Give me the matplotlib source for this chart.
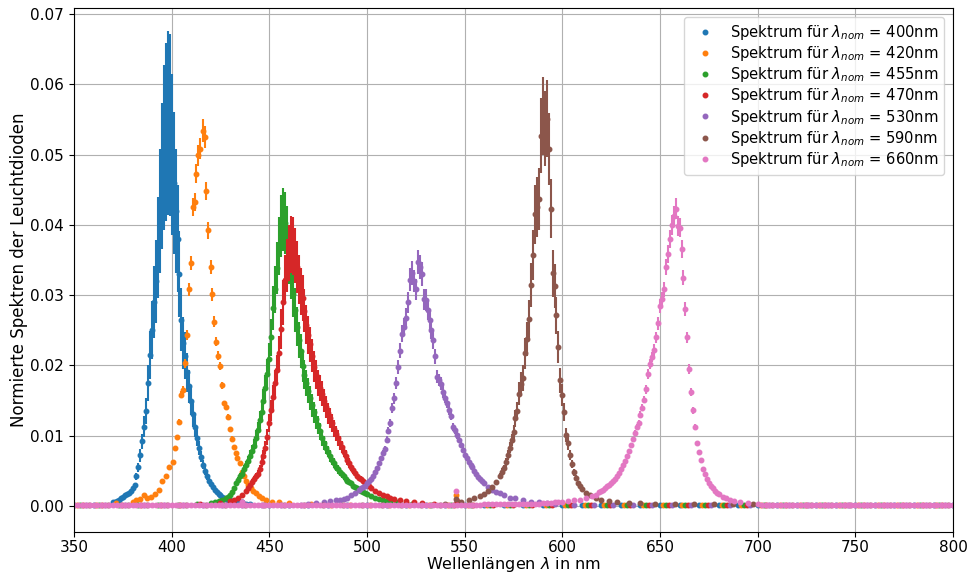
import numpy as np
import matplotlib
matplotlib.use("Agg")
import matplotlib.pyplot as plt

# ---------------- data ----------------
labels = ["400", "420", "455", "470", "530", "590", "660"]
colors = ["#1f77b4", "#ff7f0e", "#2ca02c", "#d62728", "#9467bd", "#8c564b", "#e377c2"]

# LED 400 nm
x400 = [370, 371, 372, 373, 374, 375, 376, 377, 378, 379, 380, 381, 382, 383, 384, 385, 386, 387, 388, 389,
        390, 391, 392, 393, 394, 395, 396, 397, 398, 399, 400, 401, 402, 403, 404, 405, 406, 407, 408, 409,
        410, 411, 412, 413, 414, 415, 416, 417, 418, 419, 420, 421, 422, 423, 424, 425, 426, 427, 428, 429,
        430, 432, 434, 436, 438, 440]
y400 = [.0005, .0006, .0007, .0009, .0011, .0013, .0015, .0017, .0019, .0022, .0026, .0030, .0042, .0055, .0072, .0092, .0113, .0135, .0175, .0215,
        .0250, .0290, .0320, .0368, .0420, .0470, .0510, .0532, .0545, .0542, .0500, .0460, .0420, .0380, .0330, .0265, .0232, .0214, .0190, .0170,
        .0150, .0131, .0113, .0097, .0083, .0070, .0059, .0050, .0042, .0036, .0031, .0027, .0023, .0020, .0017, .0015, .0013, .0011, .0010, .0009,
        .0008, .0006, .0005, .0006, .0003, .0003]
e400 = [.0001, .0001, .0001, .0001, .0001, .0001, .0002, .0002, .0002, .0002, .0003, .0003, .0005, .0006, .0009, .0011, .0015, .0018, .0025, .0034,
        .0041, .0051, .0059, .0072, .0088, .0104, .0118, .0127, .0131, .0130, .0115, .0101, .0088, .0076, .0061, .0045, .0037, .0033, .0028, .0024,
        .0021, .0018, .0015, .0012, .0010, .0008, .0007, .0006, .0005, .0004, .0003, .0003, .0002, .0002, .0002, .0002, .0001, .0001, .0001, .0001,
        .0001, .0001, .0001, .0001, .0001, .0001]
bx400 = [350, 360, 450, 460, 470, 480, 490, 500, 510, 520, 530, 540, 546, 550, 560, 570, 580, 590, 600, 610,
         620, 630, 640, 650, 660, 670, 680, 690, 700, 710, 720, 730, 740, 750, 760, 770, 780, 790, 800]
by400 = [1, 2, 2, 2, 1, 1, 1, 1, 1, 1, 1, 1, 5, 1, 1, 1, 1, 1, 1, 1,
         1, 1, 1, 1, 1, 1, 1, 1, 1, 1, 1, 1, 1, 1, 1, 1, 1, 1, 1]

# LED 420 nm
x420 = [380, 382, 384, 385.9, 387.5, 389.5, 391.5, 393.5, 395.3, 397.0, 398.7, 400.7, 401.8, 402.6, 403.8, 404.8, 405.9, 406.9,
        407.9, 408.8, 409.8, 411.0, 411.8, 412.7, 413.7, 414.6, 415.8, 417.0, 417.8, 418.8, 419.9, 420.9, 421.8, 422.6, 423.8, 424.8,
        426.0, 426.9, 427.9, 428.9, 430.0, 430.8, 431.9, 432.9, 433.7, 434.9, 436.0, 437.0, 438.0, 439.3, 440.6, 441.8, 443.1, 444.7,
        446.5, 448.5, 451.6, 455.0, 460.0]
y420 = [.0006, .0008, .0010, .0015, .0011, .0013, .0017, .0023, .0035, .0042, .0056, .0063, .0082, .0098, .0120, .0158, .0165, .0203,
        .0243, .0308, .0346, .0425, .0432, .0473, .0499, .0508, .0534, .0525, .0448, .0392, .0340, .0301, .0262, .0234, .0214, .0199,
        .0172, .0146, .0141, .0127, .0110, .0096, .0084, .0075, .0068, .0061, .0049, .0042, .0035, .0030, .0025, .0021, .0018, .0014,
        .0011, .0009, .0006, .0005, .0004]
e420 = [.0001, .0001, .0001, .0001, .0001, .0001, .0001, .0001, .0001, .0001, .0002, .0002, .0002, .0003, .0004, .0005, .0005, .0006,
        .0007, .0009, .0010, .0013, .0013, .0014, .0015, .0015, .0016, .0016, .0013, .0012, .0010, .0009, .0008, .0007, .0006, .0006,
        .0005, .0004, .0004, .0004, .0003, .0003, .0003, .0002, .0002, .0002, .0001, .0001, .0001, .0001, .0001, .0001, .0001, .0001,
        .0001, .0001, .0001, .0001, .0001]
bx420 = [351.5, 361.5, 371.5, 471.5, 481.5, 491.5, 501.5, 511.5, 521.5, 531.5, 541.5, 545.5, 551.5, 561.5, 571.5, 581.5, 591.5,
         601.5, 611.5, 621.5, 631.5, 641.5, 651.5, 661.5, 671.5, 681.5, 691.5, 701.5, 711.5, 721.5, 731.5, 741.5, 751.5, 761.5,
         771.5, 781.5, 791.5]
by420 = [1, 2, 4, 3, 2, 2, 2, 2, 1, 1, 1, 15, 1, 1, 1, 1, 1,
         1, 1, 1, 1, 1, 1, 1, 1, 1, 1, 1, 1, 1, 1, 1, 1, 1,
         1, 1, 1]

# LED 455 nm
x455 = [420, 422, 424, 426, 428, 429, 430, 431, 432, 433, 434, 435, 436, 437, 438, 439, 440, 441, 442, 443,
        444, 445, 446, 447, 448, 449, 450, 451, 452, 453, 454, 455, 456, 457, 458, 459, 460, 461, 462, 463,
        464, 465, 466, 467, 468, 469, 470, 471, 472, 473, 474, 475, 476, 477, 478, 479, 480, 481, 482, 483,
        484, 485, 486, 487, 488, 489, 490, 491, 492, 493, 494, 495, 496, 497, 498, 499, 500, 502, 504, 506,
        508, 510, 512, 515, 520]
y455 = [.0004, .0005, .0007, .0009, .0011, .0013, .0016, .0020, .0026, .0032, .0037, .0042, .0046, .0052, .0058, .0064, .0071, .0078, .0086, .0097,
        .0108, .0122, .0134, .0150, .0168, .0188, .0209, .0240, .0282, .0308, .0338, .0370, .0398, .0408, .0402, .0385, .0355, .0330, .0302, .0279,
        .0255, .0236, .0220, .0199, .0187, .0175, .0164, .0153, .0143, .0133, .0124, .0115, .0106, .0097, .0090, .0083, .0077, .0071, .0066, .0061,
        .0056, .0052, .0048, .0045, .0042, .0039, .0036, .0034, .0032, .0029, .0027, .0025, .0023, .0021, .0020, .0018, .0017, .0014, .0012, .0010,
        .0008, .0007, .0006, .0005, .0004]
e455 = [.0001, .0001, .0001, .0001, .0001, .0001, .0002, .0002, .0003, .0004, .0004, .0005, .0005, .0006, .0006, .0007, .0008, .0009, .0009, .0011,
        .0012, .0013, .0015, .0017, .0018, .0021, .0023, .0026, .0031, .0034, .0037, .0041, .0044, .0045, .0044, .0042, .0039, .0036, .0033, .0031,
        .0028, .0026, .0024, .0022, .0021, .0019, .0018, .0017, .0016, .0015, .0014, .0013, .0012, .0011, .0010, .0009, .0008, .0008, .0007, .0007,
        .0006, .0006, .0005, .0005, .0005, .0004, .0004, .0004, .0004, .0003, .0003, .0003, .0003, .0002, .0002, .0002, .0002, .0002, .0001, .0001,
        .0001, .0001, .0001, .0001, .0001]
bx455 = [353, 363, 373, 383, 393, 403, 413, 523, 533, 543, 546, 553, 563, 573, 583, 593, 603, 613, 623, 633,
         643, 653, 663, 673, 683, 693, 703, 713, 723, 733, 743, 753, 763, 773, 783, 793]
by455 = [1, 1, 1, 1, 2, 2, 3, 3, 2, 2, 6, 2, 1, 1, 1, 1, 1, 1, 1, 1,
         1, 1, 1, 1, 1, 1, 1, 1, 1, 1, 1, 1, 1, 1, 1, 1]

# LED 470 nm
x470 = [430, 432, 434, 436, 438, 439, 440, 441, 442, 443, 444, 445, 446, 447, 448, 449, 450, 451, 452, 453,
        454, 455, 456, 457, 458, 459, 460, 461, 462, 463, 464, 465, 466, 467, 468, 469, 470, 471, 472, 473,
        474, 475, 476, 477, 478, 479, 480, 481, 482, 483, 484, 485, 486, 487, 488, 489, 490, 491, 492, 493,
        494, 495, 496, 497, 498, 499, 500, 501, 502, 504, 506, 508, 510, 512, 514, 517, 520, 524, 528]
y470 = [.0007, .0009, .0012, .0016, .0022, .0026, .0030, .0034, .0038, .0042, .0046, .0053, .0062, .0071, .0083, .0098, .0118, .0136, .0155, .0175,
        .0194, .0218, .0252, .0290, .0322, .0342, .0360, .0372, .0370, .0356, .0340, .0322, .0305, .0296, .0278, .0258, .0243, .0230, .0214, .0198,
        .0187, .0175, .0168, .0160, .0150, .0141, .0132, .0125, .0118, .0110, .0103, .0097, .0090, .0084, .0077, .0071, .0065, .0061, .0056, .0051,
        .0047, .0043, .0040, .0038, .0036, .0033, .0030, .0028, .0026, .0022, .0018, .0016, .0014, .0012, .0010, .0008, .0007, .0005, .0004]
e470 = [.0001, .0001, .0001, .0002, .0002, .0003, .0003, .0004, .0004, .0005, .0005, .0006, .0007, .0008, .0009, .0011, .0013, .0015, .0017, .0019,
        .0021, .0024, .0028, .0032, .0035, .0038, .0040, .0041, .0041, .0039, .0037, .0035, .0034, .0033, .0031, .0028, .0027, .0025, .0024, .0022,
        .0021, .0019, .0018, .0018, .0017, .0016, .0015, .0014, .0013, .0012, .0011, .0011, .0010, .0009, .0008, .0008, .0007, .0007, .0006, .0006,
        .0005, .0005, .0004, .0004, .0004, .0004, .0003, .0003, .0003, .0002, .0002, .0002, .0002, .0001, .0001, .0001, .0001, .0001, .0001]
bx470 = [354.5, 364.5, 374.5, 384.5, 394.5, 404.5, 414.5, 424.5, 534.5, 544.5, 546.0, 554.5, 564.5, 574.5, 584.5, 594.5,
         604.5, 614.5, 624.5, 634.5, 644.5, 654.5, 664.5, 674.5, 684.5, 694.5, 704.5, 714.5, 724.5, 734.5, 744.5, 754.5,
         764.5, 774.5, 784.5, 794.5]
by470 = [1, 1, 1, 1, 2, 2, 3, 4, 3, 2, 7, 2, 2, 1, 1, 1,
         1, 1, 1, 1, 1, 1, 1, 1, 1, 1, 1, 1, 1, 1, 1, 1,
         1, 1, 1, 1]

# LED 530 nm
x530 = [470, 474, 478, 481, 484, 486, 488, 490, 492, 494, 496, 497, 498, 499, 500, 501, 502, 503, 504, 505,
        506, 507, 508, 509, 510, 511, 512, 513, 514, 515, 516, 517, 518, 519, 520, 521, 522, 523, 524, 525,
        526, 527, 528, 529, 530, 531, 532, 533, 534, 535, 536, 537, 538, 539, 540, 541, 542, 543, 544, 545,
        546, 547, 548, 549, 550, 551, 552, 553, 554, 555, 556, 557, 558, 559, 560, 562, 564, 566, 568, 570,
        573, 576, 580, 584, 588, 592, 596]
y530 = [.0003, .0004, .0006, .0007, .0008, .0009, .0010, .0012, .0015, .0019, .0023, .0025, .0027, .0029, .0032, .0035, .0039, .0043, .0048, .0054,
        .0061, .0068, .0076, .0081, .0094, .0107, .0118, .0139, .0153, .0175, .0198, .0221, .0245, .0255, .0268, .0290, .0322, .0331, .0320, .0308,
        .0347, .0340, .0330, .0294, .0293, .0279, .0264, .0250, .0236, .0213, .0184, .0179, .0174, .0162, .0154, .0146, .0137, .0128, .0112, .0108,
        .0101, .0094, .0087, .0080, .0073, .0068, .0063, .0059, .0056, .0050, .0045, .0041, .0038, .0035, .0032, .0027, .0023, .0020, .0018, .0015,
        .0012, .0011, .0008, .0006, .0005, .0004, .0003]
e530 = [.0001, .0001, .0001, .0001, .0001, .0001, .0001, .0001, .0001, .0001, .0001, .0001, .0001, .0001, .0002, .0002, .0002, .0002, .0002, .0003,
        .0003, .0003, .0004, .0004, .0005, .0005, .0006, .0007, .0008, .0009, .0010, .0011, .0012, .0013, .0013, .0015, .0016, .0017, .0016, .0015,
        .0017, .0017, .0017, .0015, .0015, .0014, .0013, .0013, .0012, .0011, .0009, .0009, .0009, .0008, .0008, .0007, .0007, .0006, .0006, .0005,
        .0005, .0005, .0004, .0004, .0004, .0003, .0003, .0003, .0003, .0003, .0002, .0002, .0002, .0002, .0002, .0001, .0001, .0001, .0001, .0001,
        .0001, .0001, .0001, .0001, .0001, .0001, .0001]
bx530 = [356, 366, 376, 386, 396, 406, 416, 426, 435.8, 436, 446, 456, 466, 606, 616, 626, 636, 646, 656, 666,
         676, 686, 696, 706, 716, 726, 736, 746, 756, 766, 776, 786, 796]
by530 = [1, 1, 1, 1, 1, 1, 1, 1, 5, 1, 1, 2, 2, 2, 2, 1, 1, 1, 1, 1,
         1, 1, 1, 1, 1, 1, 1, 1, 1, 1, 1, 1, 1]

# LED 590 nm
x590 = [540, 545.5, 548, 552, 555, 558, 560, 562, 564, 566, 568, 569, 570, 571, 572, 573, 574, 575, 576, 577,
        578, 579, 580, 581, 582, 583, 584, 585, 586, 587, 588, 589, 590, 591, 592, 593, 594, 595, 596, 597,
        598, 599, 600, 601, 602, 603, 604, 605, 606, 607, 608, 609, 610, 612, 614, 617, 620, 624, 628, 634,
        640]
y590 = [.0003, .0010, .0006, .0009, .0011, .0014, .0017, .0021, .0027, .0034, .0043, .0049, .0054, .0062, .0073, .0083, .0094, .0105, .0125, .0135,
        .0160, .0173, .0182, .0217, .0238, .0266, .0314, .0357, .0415, .0425, .0437, .0527, .0555, .0537, .0551, .0508, .0423, .0331, .0313, .0271,
        .0226, .0179, .0158, .0134, .0101, .0089, .0072, .0060, .0048, .0040, .0033, .0028, .0024, .0019, .0016, .0012, .0009, .0007, .0006, .0004,
        .0004]
e590 = [.0001, .0001, .0001, .0001, .0001, .0001, .0002, .0002, .0003, .0003, .0004, .0005, .0005, .0006, .0007, .0008, .0009, .0010, .0012, .0013,
        .0016, .0017, .0018, .0022, .0024, .0027, .0031, .0036, .0042, .0043, .0044, .0053, .0056, .0054, .0055, .0051, .0042, .0033, .0031, .0027,
        .0023, .0018, .0016, .0013, .0010, .0009, .0007, .0006, .0005, .0004, .0003, .0003, .0002, .0002, .0002, .0001, .0001, .0001, .0001, .0001,
        .0001]
bx590 = [357.5, 367.5, 377.5, 387.5, 397.5, 407.5, 417.5, 427.5, 435.8, 437.5, 447.5, 457.5, 467.5, 477.5, 487.5, 497.5,
         507.5, 517.5, 527.5, 537.5, 647.5, 657.5, 667.5, 677.5, 687.5, 697.5, 707.5, 717.5, 727.5, 737.5, 747.5, 757.5,
         767.5, 777.5, 787.5, 797.5]
by590 = [1, 1, 1, 1, 1, 1, 1, 1, 4, 1, 1, 1, 1, 1, 1, 1,
         1, 1, 2, 2, 3, 3, 3, 3, 3, 3, 2, 2, 2, 2, 2, 2,
         2, 2, 2, 2]

# LED 660 nm
x660 = [600, 603, 606, 609, 612, 615, 617, 619, 620, 621, 622, 623, 624, 625, 626, 627, 628, 629, 630, 631,
        632, 633, 634, 635, 636, 637, 638, 639, 640, 641, 642, 643, 644, 645, 646, 647, 648, 649, 650, 651,
        652, 653, 654, 655, 656, 657, 658, 659, 660, 661, 662, 663, 664, 665, 666, 667, 668, 669, 670, 671,
        672, 673, 674, 675, 676, 677, 678, 679, 680, 682, 684, 686, 688, 691, 695, 700]
y660 = [.0006, .0007, .0008, .0009, .0011, .0014, .0016, .0020, .0021, .0023, .0026, .0028, .0030, .0033, .0036, .0039, .0042, .0047, .0053, .0058,
        .0064, .0071, .0078, .0087, .0095, .0104, .0112, .0118, .0130, .0140, .0151, .0166, .0188, .0202, .0212, .0222, .0240, .0260, .0284, .0294,
        .0308, .0340, .0358, .0380, .0400, .0413, .0423, .0398, .0396, .0366, .0325, .0280, .0240, .0195, .0162, .0136, .0112, .0090, .0077, .0065,
        .0053, .0045, .0038, .0032, .0028, .0025, .0022, .0019, .0017, .0013, .0011, .0009, .0007, .0006, .0004, .0003]
e660 = [.0001, .0001, .0001, .0001, .0001, .0001, .0001, .0001, .0001, .0001, .0001, .0001, .0001, .0001, .0001, .0001, .0001, .0002, .0002, .0002,
        .0002, .0002, .0003, .0003, .0003, .0004, .0004, .0004, .0005, .0005, .0005, .0006, .0007, .0007, .0007, .0008, .0008, .0009, .0010, .0010,
        .0011, .0012, .0013, .0013, .0014, .0014, .0015, .0014, .0014, .0013, .0011, .0010, .0008, .0007, .0006, .0005, .0004, .0003, .0003, .0002,
        .0002, .0002, .0001, .0001, .0001, .0001, .0001, .0001, .0001, .0001, .0001, .0001, .0001, .0001, .0001, .0001]
bx660 = [350, 352, 354, 356, 358, 360, 362, 364, 366, 368, 370, 372, 374, 376, 378, 380, 382, 384, 386, 388,
         390, 392, 394, 396, 398, 400, 402, 404, 406, 408, 410, 412, 414, 416, 418, 420, 422, 424, 426, 428,
         430, 432, 434, 436, 438, 440, 442, 444, 446, 448, 450, 452, 454, 456, 458, 460, 462, 464, 466, 468,
         470, 472, 474, 476, 478, 480, 482, 484, 486, 488, 490, 492, 494, 496, 498, 500, 502, 504, 506, 508,
         510, 512, 514, 516, 518, 520, 522, 524, 526, 528, 530, 532, 534, 536, 538, 540, 542, 544, 546, 548,
         550, 552, 554, 556, 558, 560, 562, 564, 566, 568, 570, 572, 574, 576, 578, 580, 582, 584, 586, 588,
         590, 592, 594, 596, 598,
         702, 704, 706, 708, 710, 712, 714, 716, 718, 720, 722, 724, 726, 728, 730, 732, 734, 736, 738, 740,
         742, 744, 746, 748, 750, 752, 754, 756, 758, 760, 762, 764, 766, 768, 770, 772, 774, 776, 778, 780,
         782, 784, 786, 788, 790, 792, 794, 796, 798, 800,
         435.8, 545.5]
by660 = [1, 1, 1, 1, 1, 1, 1, 1, 1, 1, 1, 1, 1, 1, 1, 1, 1, 1, 1, 1,
         1, 1, 1, 1, 1, 1, 1, 1, 1, 1, 1, 1, 1, 1, 1, 1, 1, 1, 1, 1,
         1, 1, 1, 1, 1, 1, 1, 1, 1, 1, 1, 1, 1, 1, 1, 1, 1, 1, 1, 1,
         1, 1, 1, 1, 1, 1, 1, 1, 1, 1, 1, 1, 1, 1, 1, 2, 2, 2, 2, 2,
         2, 2, 2, 2, 2, 2, 2, 2, 2, 2, 2, 2, 2, 2, 2, 2, 2, 2, 2, 2,
         2, 2, 2, 2, 2, 3, 3, 3, 3, 3, 3, 3, 3, 3, 3, 3, 3, 3, 3, 3,
         4, 4, 4, 5, 5,
         2, 2, 2, 2, 2, 2, 2, 2, 2, 2, 2, 2, 2, 2, 2, 2, 2, 2, 2, 2,
         2, 2, 2, 2, 2, 1, 1, 1, 1, 1, 1, 1, 1, 1, 1, 1, 1, 1, 1, 1,
         1, 1, 1, 1, 1, 1, 1, 1, 1, 1,
         6, 22]

series = [
    (x400, y400, e400, bx400, by400),
    (x420, y420, e420, bx420, by420),
    (x455, y455, e455, bx455, by455),
    (x470, y470, e470, bx470, by470),
    (x530, y530, e530, bx530, by530),
    (x590, y590, e590, bx590, by590),
    (x660, y660, e660, bx660, by660),
]
baseline_unit = 1e-4

# ---------------- plot ----------------
fig = plt.figure(figsize=(9.72, 5.78), dpi=100)
ax = fig.add_axes([0.0761, 0.0796, 0.9044, 0.9066])

for (xs, ys, es, bxs, bys), lab, col in zip(series, labels, colors):
    ax.errorbar(xs, ys, yerr=es, fmt="none", ecolor=col, elinewidth=1.5)
    allx = np.concatenate([np.asarray(xs, float), np.asarray(bxs, float)])
    ally = np.concatenate([np.asarray(ys, float), np.asarray(bys, float) * baseline_unit])
    order = np.argsort(allx)
    ax.plot(allx[order], ally[order], ".", color=col, linestyle="none", markersize=6.5,
            label=r"Spektrum für $\lambda_{nom}$ = " + lab + "nm")

ax.set_xlim(350, 800)
ax.set_ylim(-0.0037, 0.07085)
ax.grid(True)
ax.tick_params(labelsize=11)
ax.tick_params(axis="x", pad=2.5)
ax.set_xlabel(r"Wellenlängen $\lambda$ in nm", fontsize=11.5, labelpad=0)
ax.set_ylabel("Normierte Spektren der Leuchtdioden", fontsize=12, labelpad=1.5)
ax.legend(loc="upper right", fontsize=10.6, labelspacing=0.15, handletextpad=0.7,
          borderaxespad=0.6)

fig.savefig("out.png", dpi=100)
